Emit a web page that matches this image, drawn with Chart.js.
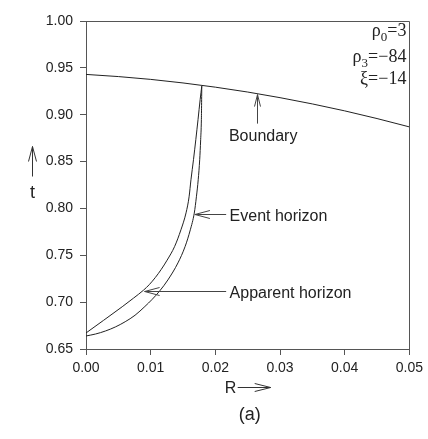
<!DOCTYPE html>
<html>
<head>
<meta charset="utf-8">
<script src="https://cdn.jsdelivr.net/npm/chart.js@4.4.0/dist/chart.umd.min.js"></script>
<style>html,body{margin:0;padding:0;background:#fff}</style>
</head>
<body>
<canvas id="myChart" width="428" height="439"></canvas>
<script>
// values
const boundaryR=[0,0.005,0.01,0.015,0.02,0.025,0.03,0.035,0.04,0.045,0.05];
const boundaryT=[0.943,0.9407,0.9377,0.9339,0.9294,0.9242,0.9182,0.9115,0.9041,0.8959,0.887];

const apparentR=[0,0.0027,0.0056,0.00735,0.00888,0.0098,0.01071,0.01163,0.01254,0.01369,0.01468,0.01547,0.01594,0.01623,0.01662,0.01698,0.01732,0.01765,0.0179];
const apparentT=[0.6671,0.6805,0.6951,0.7043,0.7127,0.7188,0.7262,0.7349,0.7448,0.7592,0.7772,0.7953,0.8124,0.8306,0.8520,0.8734,0.8947,0.9161,0.9305];

const eventR=[0,0.00148,0.0030,0.00453,0.00606,0.00758,0.00911,0.01022,0.0114,0.01266,0.01422,0.01532,0.01613,0.01674,0.01707,0.01735,0.01758,0.01773,0.01784,0.01788,0.0179];
const eventT=[0.6639,0.6660,0.6692,0.6735,0.6791,0.6860,0.6954,0.7029,0.7120,0.7237,0.7419,0.7593,0.7772,0.7950,0.8124,0.8306,0.8520,0.8734,0.8947,0.9161,0.9305];

const xTicks=[0,0.01,0.02,0.03,0.04,0.05];
const yTicks=[0.65,0.70,0.75,0.80,0.85,0.90,0.95,1.00];

const sans="'Liberation Sans', Arial, Helvetica, sans-serif";
const serif="'Liberation Serif', 'Times New Roman', serif";
const ink='#222';
const frame='#555';

function toPoints(xs,ys){
    return xs.map((v,i)=>({x:v,y:ys[i]}));
}

function arrow(ctx,x1,y1,x2,y2,len,half){
    ctx.beginPath();
    ctx.moveTo(x1,y1);
    ctx.lineTo(x2,y2);
    const ang=Math.atan2(y2-y1,x2-x1);
    const c=Math.cos(ang), s=Math.sin(ang);
    const bx=x2-len*c, by=y2-len*s;
    ctx.moveTo(bx+half*s,by-half*c);
    ctx.lineTo(x2,y2);
    ctx.lineTo(bx-half*s,by+half*c);
    ctx.stroke();
}

const notes={
    id:'notes',
    afterDraw(chart){
        const ctx=chart.ctx;
        const a=chart.chartArea;
        const x=chart.scales.x, y=chart.scales.y;
        ctx.save();

        // top and right frame
        ctx.strokeStyle=frame;
        ctx.lineWidth=1;
        ctx.beginPath();
        ctx.moveTo(Math.round(a.left)+0.5,Math.round(a.top)+0.5);
        ctx.lineTo(Math.round(a.right)+0.5,Math.round(a.top)+0.5);
        ctx.lineTo(Math.round(a.right)+0.5,Math.round(a.bottom)+0.5);
        ctx.stroke();

        // curve labels with arrows
        ctx.strokeStyle='#444';
        ctx.fillStyle=ink;
        ctx.font='16px '+sans;
        ctx.textAlign='left';
        ctx.textBaseline='alphabetic';

        const bx=Math.round(x.getPixelForValue(0.0265))+0.5;
        arrow(ctx,bx,y.getPixelForValue(0.8905),bx,y.getPixelForValue(0.9215),12,3);
        ctx.fillText('Boundary',x.getPixelForValue(0.0221),y.getPixelForValue(0.8905)+17);

        const ey=Math.round(y.getPixelForValue(0.7943))+0.5;
        arrow(ctx,x.getPixelForValue(0.02167),ey,x.getPixelForValue(0.01684),ey,15,4);
        ctx.fillText('Event horizon',x.getPixelForValue(0.0222),ey+6);

        const ay=Math.round(y.getPixelForValue(0.712))+0.5;
        arrow(ctx,x.getPixelForValue(0.02167),ay,x.getPixelForValue(0.00906),ay,15,4);
        ctx.fillText('Apparent horizon',x.getPixelForValue(0.0222),ay+6);

        // axis titles
        const cx=(a.left+a.right)/2, cy=(a.top+a.bottom)/2;
        ctx.strokeStyle='#333';
        const tx=Math.round(a.left-54)+0.5;
        arrow(ctx,tx,cy-8.5,tx,cy-38.5,15,4);
        ctx.font='18px '+sans;
        ctx.textAlign='center';
        ctx.fillText('t',tx,cy+13);

        ctx.font='16px '+sans;
        ctx.textAlign='left';
        ctx.fillText('R',cx-23,a.bottom+44.3);
        const ry=Math.round(a.bottom+37.7)+0.5;
        arrow(ctx,cx-10,ry,cx+23,ry,16,4);

        ctx.font='18px '+sans;
        ctx.textAlign='center';
        ctx.fillText('(a)',cx+2,a.bottom+70.5);

        // parameters, right aligned, serif with subscripts
        const rightX=a.right-3;
        const lines=[
            {base:'\u03c1',sub:'0',rest:'=3',dy:14.5},
            {base:'\u03c1',sub:'3',rest:'=\u221284',dy:40.5},
            {base:'\u03be',sub:'',rest:'=\u221214',dy:63}
        ];
        ctx.textAlign='left';
        lines.forEach(l=>{
            ctx.font='18px '+serif;
            const w1=ctx.measureText(l.base).width;
            const w3=ctx.measureText(l.rest).width;
            ctx.font='13px '+serif;
            const w2=l.sub?ctx.measureText(l.sub).width:0;
            const by=a.top+l.dy;
            let px=rightX-(w1+w2+w3);
            ctx.font='18px '+serif;
            ctx.fillText(l.base,px,by);
            px+=w1;
            if(l.sub){
                ctx.font='13px '+serif;
                ctx.fillText(l.sub,px,by+5);
                px+=w2;
            }
            ctx.font='18px '+serif;
            ctx.fillText(l.rest,px,by);
        });

        ctx.restore();
    }
};

function lineSet(xs,ys){
    return {
        data:toPoints(xs,ys),
        showLine:true,
        borderColor:ink,
        borderWidth:1,
        pointRadius:0,
        cubicInterpolationMode:'monotone',
        fill:false
    };
}

function loadChart(){
    const ctx=document.getElementById('myChart');

    new Chart(ctx,{
        type:'scatter',
        data:{
            datasets:[
                lineSet(boundaryR,boundaryT),
                lineSet(apparentR,apparentT),
                lineSet(eventR,eventT)
            ]
        },
        options:{
            responsive:false,
            animation:false,
            layout:{padding:{top:21,right:14,left:0,bottom:0}},
            plugins:{
                legend:{display:false},
                tooltip:{enabled:false}
            },
            scales:{
                x:{
                    type:'linear',
                    min:0,
                    max:0.05,
                    afterBuildTicks:s=>{s.ticks=xTicks.map(v=>({value:v}));},
                    afterFit:s=>{s.height=90;},
                    ticks:{
                        callback:v=>Number(v).toFixed(2),
                        font:{family:sans,size:14},
                        color:ink,
                        padding:5,
                        maxRotation:0,
                        autoSkip:false
                    },
                    grid:{drawOnChartArea:false,drawTicks:true,tickLength:6,color:frame},
                    border:{display:true,color:frame}
                },
                y:{
                    type:'linear',
                    min:0.65,
                    max:1.00,
                    afterBuildTicks:s=>{s.ticks=yTicks.map(v=>({value:v}));},
                    afterFit:s=>{s.width=86;},
                    ticks:{
                        callback:v=>Number(v).toFixed(2),
                        font:{family:sans,size:14},
                        color:ink,
                        padding:7,
                        autoSkip:false
                    },
                    grid:{drawOnChartArea:false,drawTicks:true,tickLength:6,color:frame},
                    border:{display:true,color:frame}
                }
            }
        },
        plugins:[notes]
    });
}

loadChart();
</script>
</body>
</html>
